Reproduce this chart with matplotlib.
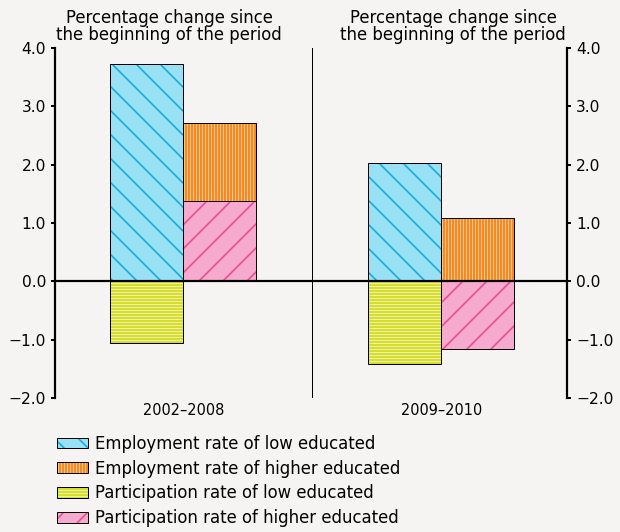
import numpy as np
import matplotlib.pyplot as plt
from matplotlib.patches import Patch

# data
periods = ['2002\u20132008', '2009\u20132010']
emp_low = [3.72, 2.03]
emp_high = [2.72, 1.08]
part_low = [-1.05, -1.41]
part_high = [1.38, -1.16]
series_names = ['Employment rate of low educated',
                'Employment rate of higher educated',
                'Participation rate of low educated',
                'Participation rate of higher educated']
yticks = [-2.0, -1.0, 0.0, 1.0, 2.0, 3.0, 4.0]

bg = '#f5f4f2'
# (face, hatch colour, hatch)
styles = [('#98e0f4', '#10a8d8', '\\'),
          ('#f07800', '#fcc48a', '||||'),
          ('#cdd800', '#eef0a8', '----'),
          ('#f6aace', '#e8478d', '/')]

plt.rcParams['font.family'] = ['DejaVu Sans']
plt.rcParams['hatch.linewidth'] = 1.5

DPI = 72
fig = plt.figure(figsize=(620 / DPI, 532 / DPI), dpi=DPI, facecolor=bg)
ax = fig.add_axes([55 / 620, 1 - 398 / 532, 512 / 620, 350 / 532])
ax.set_facecolor(bg)

x = np.arange(len(periods))
w = 0.283


def hbar(xs, vals, st, z):
    face, hc, h = st
    ax.bar(xs, vals, w, color=face, lw=0, zorder=z)
    ax.bar(xs, vals, w, color='none', edgecolor=hc, hatch=h, lw=0, zorder=z + 0.1)
    ax.bar(xs, vals, w, color='none', edgecolor='black', lw=1.0, zorder=z + 0.2)


hbar(x - w / 2, emp_low, styles[0], 2)
hbar(x + w / 2, emp_high, styles[1], 3)
hbar(x - w / 2, part_low, styles[2], 4)
hbar(x + w / 2, part_high, styles[3], 5)

ax.set_xlim(-0.497, 1.487)
ax.set_ylim(-2.0, 4.0)
ax.axhline(0, color='black', lw=2.2, zorder=8)
ax.axvline(0.5, color='black', lw=1.0, zorder=1)

for s in ['top', 'bottom']:
    ax.spines[s].set_visible(False)
for s in ['left', 'right']:
    ax.spines[s].set_linewidth(2.2)

ax.set_yticks(yticks)
ax.set_yticklabels([('%.1f' % v).replace('-', '\u2212') for v in yticks])
ax.tick_params(axis='y', left=True, right=True, labelleft=True, labelright=True,
               length=4, width=2, labelsize=15.5, pad=5, direction='out')
ax.set_xticks(x)
ax.set_xticklabels(periods)
ax.tick_params(axis='x', length=0, labelsize=14.5, pad=5)

title = 'Percentage change since\nthe beginning of the period'
fig.text(169 / 620, 1 - 9 / 532, title, ha='center', va='top', fontsize=16.5,
         linespacing=0.95)
fig.text(453 / 620, 1 - 9 / 532, title, ha='center', va='top', fontsize=16.5,
         linespacing=0.95)

handles = []
for face, hc, h in styles:
    handles.append((Patch(facecolor=face, lw=0),
                    Patch(facecolor='none', edgecolor=hc, hatch=h, lw=0),
                    Patch(facecolor='none', edgecolor='black', lw=1.0)))
fig.legend(handles, series_names, loc='upper left',
           bbox_to_anchor=(50 / 620, 1 - 428 / 532), frameon=False,
           fontsize=16.5, handlelength=1.9, handleheight=0.6,
           handletextpad=0.45, labelspacing=0.42, borderaxespad=0)

fig.savefig('out.png', dpi=DPI, facecolor=bg)
